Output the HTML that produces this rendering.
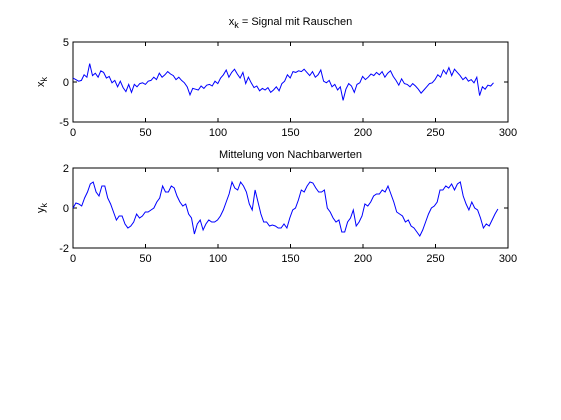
<!DOCTYPE html>
<html><head><meta charset="utf-8"><style>
html,body{margin:0;padding:0;background:#fff;}
svg{display:block;font-family:"Liberation Sans",Arial,sans-serif;font-size:11px;}
</style></head><body>
<svg id="fig" width="561" height="420" viewBox="0 0 561 420" xmlns="http://www.w3.org/2000/svg">
<rect width="561" height="420" fill="#fff"/>
</svg>
<script>
const xTicks=[0,50,100,150,200,250,300];
const topYTicks=[-5,0,5];
const botYTicks=[-2,0,2];
const noisyLastSample=290;
const smoothLastSample=293;
const noisySignal=[0.5,0.3,0.1,0.2,0.9,0.6,2.3,0.8,1.1,0.6,1.4,1.2,0.5,0.7,-0.1,0.2,-0.6,0.1,-0.7,-1.2,-0.3,-1.3,-0.3,-0.6,-0.2,-0.1,-0.3,0.1,0.2,0.6,0.3,1.1,0.6,0.9,1.3,1.0,0.8,0.3,0.6,0.2,-0.1,-0.6,-1.6,-0.8,-0.9,-1.0,-0.5,-0.8,-0.4,-0.3,-0.5,0.1,-0.2,0.5,0.9,1.5,0.6,1.2,1.6,1.0,0.5,1.2,-0.2,0.6,-0.1,-0.7,-0.5,-1.1,-0.8,-1.0,-0.7,-1.3,-1.0,-0.6,-1.1,-0.2,0.1,0.9,0.5,1.3,1.2,1.4,1.3,1.6,1.2,0.8,1.3,0.6,0.9,1.5,0.1,-0.1,0.2,-0.6,-0.3,-1.0,-0.6,-2.3,-0.9,-0.2,-0.5,-1.3,-0.3,-0.1,0.7,0.3,0.6,1.0,0.8,1.2,0.9,1.3,0.6,1.1,1.4,0.7,0.2,-0.4,0.4,-0.2,-0.3,-0.6,-0.2,-0.5,-0.9,-1.4,-1.0,-0.6,-0.2,-0.1,0.3,0.9,0.6,1.5,1.0,1.8,0.8,1.6,1.2,0.8,0.3,0.6,0.1,0.3,-0.1,0.6,-1.7,-0.6,-0.9,-0.4,-0.5,-0.1];
const smoothSignal=[0.0,0.25,0.2,0.1,0.5,0.8,1.2,1.3,0.8,0.6,1.1,1.1,0.5,0.2,-0.2,-0.6,-0.4,-0.4,-0.8,-1.0,-0.9,-0.7,-0.3,-0.5,-0.4,-0.2,-0.2,-0.1,0.0,0.3,0.5,1.1,0.8,0.8,1.1,1.0,0.6,0.3,0.1,0.2,-0.3,-0.5,-1.3,-0.8,-0.6,-1.1,-0.8,-0.6,-0.7,-0.7,-0.6,-0.4,-0.1,0.3,0.7,1.3,1.0,0.9,1.3,1.1,0.8,0.2,-0.1,0.9,0.3,-0.3,-0.7,-0.7,-0.9,-0.85,-0.9,-1.0,-1.0,-0.8,-1.0,-0.5,-0.1,0.0,0.4,0.9,0.8,1.1,1.3,1.25,1.0,0.8,0.8,0.9,0.0,-0.2,-0.5,-0.7,-0.6,-1.2,-1.2,-0.7,-0.5,-0.1,-0.9,-0.7,-0.4,0.2,0.1,0.3,0.6,0.7,0.7,0.9,0.8,1.1,0.7,0.3,-0.2,-0.3,-0.4,-0.7,-0.6,-0.9,-1.0,-1.2,-1.4,-1.1,-0.7,-0.3,0.0,0.1,0.3,0.9,0.9,1.1,1.0,1.2,0.9,1.2,1.3,0.6,0.2,-0.1,0.3,0.0,-0.1,-0.5,-1.0,-0.8,-0.9,-0.6,-0.3,-0.05];
const svg=document.getElementById('fig');
const NS='http://www.w3.org/2000/svg';
function mk(tag,attrs,txt){const e=document.createElementNS(NS,tag);for(const k in attrs)e.setAttribute(k,attrs[k]);if(txt!==undefined)e.textContent=txt;svg.appendChild(e);return e;}
function panel(name,top,bottom,yTicks,data,lastSample,title,titleY,ylab){
  const L=73,R=508,x0=0,x1=300,y0=yTicks[0],y1=yTicks[yTicks.length-1];
  const step=lastSample/(data.length-1);
  const sx=v=>L+(v-x0)/(x1-x0)*(R-L);
  const sy=v=>bottom-(v-y0)/(y1-y0)*(bottom-top);
  const box=mk('rect',{x:L,y:top,width:R-L,height:bottom-top,fill:'none',stroke:'#000','stroke-width':1});
  
  
  xTicks.forEach(t=>{
    const X=sx(t);
    const a=mk('line',{x1:X,x2:X,y1:bottom,y2:bottom-4,stroke:'#000'});
    
    
    const b=mk('line',{x1:X,x2:X,y1:top,y2:top+4,stroke:'#000'});
    
    
    const l=mk('text',{x:X,y:bottom+14,'text-anchor':'middle'},String(t));
    
    
  });
  yTicks.forEach(t=>{
    const Y=sy(t);
    const a=mk('line',{x1:L,x2:L+4,y1:Y,y2:Y,stroke:'#000'});
    
    
    const b=mk('line',{x1:R,x2:R-4,y1:Y,y2:Y,stroke:'#000'});
    
    
    const l=mk('text',{x:L-4,y:Y+4,'text-anchor':'end'},String(t));
    
    
  });
  const pts=data.map((v,i)=>sx(i*step).toFixed(1)+','+sy(v).toFixed(1)).join(' ');
  const p=mk('polyline',{points:pts,fill:'none',stroke:'#0000ff','stroke-width':1});
  
  
  const tt=mk('text',{x:(L+R)/2,y:titleY,'text-anchor':'middle'});
  
  
  tt.innerHTML=title;
  const yl=mk('text',{transform:'translate(44,'+((top+bottom)/2)+') rotate(-90)','text-anchor':'middle'});
  
  
  yl.innerHTML=ylab;
}
panel('top-chart',42,122,topYTicks,noisySignal,noisyLastSample,'x<tspan dy="3" font-size="9">k</tspan><tspan dy="-3"> = Signal mit Rauschen</tspan>',25,'x<tspan dy="3" font-size="9">k</tspan>');
panel('bottom-chart',168,248,botYTicks,smoothSignal,smoothLastSample,'Mittelung von Nachbarwerten',158,'y<tspan dy="3" font-size="9">k</tspan>');
</script>
</body></html>
